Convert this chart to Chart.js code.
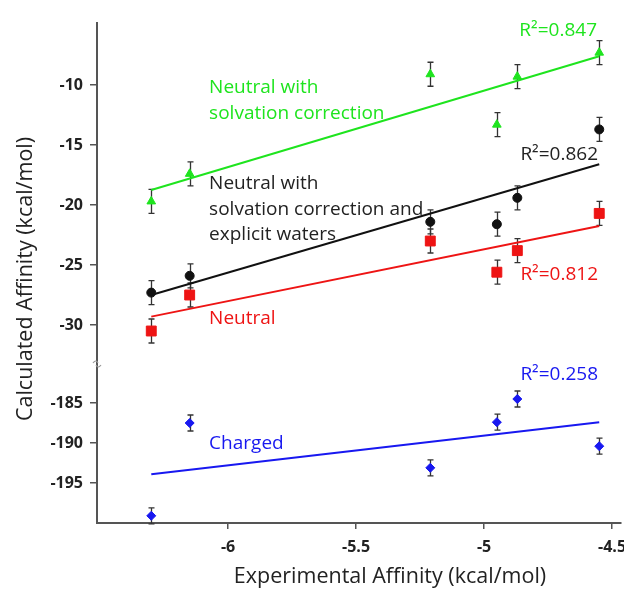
<!DOCTYPE html>
<html lang="en">
<head>
  <meta charset="UTF-8" />
  <title>Calculated vs Experimental Affinity</title>
  <script src="https://cdn.jsdelivr.net/npm/chart.js"></script>
  <style>
    body {
      margin: 0;
      background: #ffffff;
    }
    .wrap {
      position: relative;
      width: 624px;
      height: 590px;
    }
  </style>
</head>
<body>
  <div class="wrap">
    <canvas id="affinityChart"></canvas>
  </div>

  <script>
    // experimental affinities shared by all four series
    const expAffinity = [-6.30, -6.15, -5.21, -4.95, -4.87, -4.55];

    const neutralSolv = [-19.7, -17.4, -9.1, -13.3, -9.3, -7.3];
    const neutralSolvWater = [-27.3, -25.9, -21.4, -21.6, -19.4, -13.7];
    const neutral = [-30.5, -27.5, -23.0, -25.6, -23.8, -20.7];
    const charged = [-199.1, -187.5, -193.1, -187.4, -184.5, -190.4];

    const errNeutralSolv = [1, 1, 1, 1, 1, 1];
    const errNeutralSolvWater = [1, 1, 1, 1, 1, 1];
    const errNeutral = [1, 1, 1, 1, 1, 1];
    const errCharged = [1, 1, 1, 1, 1, 1];

    // regression lines, end points
    const fitX = [-6.30, -4.55];
    const fitNeutralSolv = [-18.75, -7.6];
    const fitNeutralSolvWater = [-27.5, -16.6];
    const fitNeutral = [-29.3, -21.75];
    const fitCharged = [-193.9, -187.4];

    const r2Labels = ['R²=0.847', 'R²=0.862', 'R²=0.812', 'R²=0.258'];

    const xTicks = [-6, -5.5, -5, -4.5];
    const yTopTicks = [-10, -15, -20, -25, -30];
    const yBotTicks = [-185, -190, -195];

    const GREEN = '#1ee41e';
    const BLACK = '#111111';
    const RED = '#ee1414';
    const BLUE = '#1818f0';
    const AXIS = '#555555';
    const TEXT = '#222222';
    const FONT = "'Open Sans', sans-serif";

    const toPts = (xs, ys) => xs.map((x, i) => ({ x: x, y: ys[i] }));

    function pointSet(label, ys, errs, color, style, radius, axis) {
      return {
        label: label,
        data: toPts(expAffinity, ys),
        errors: errs,
        yAxisID: axis,
        pointStyle: style,
        pointRadius: radius,
        backgroundColor: color,
        borderColor: color,
        borderWidth: 1,
        showLine: false,
        clip: false,
        order: 1
      };
    }

    function fitSet(label, ys, color, axis) {
      return {
        label: label,
        data: toPts(fitX, ys),
        yAxisID: axis,
        showLine: true,
        pointRadius: 0,
        borderColor: color,
        borderWidth: 2,
        fill: false,
        order: 2
      };
    }

    // text placed in data coordinates (first line baseline)
    const notes = [
      { lines: ['Neutral with', 'solvation correction'], x: -6.074, y: -10.7, axis: 'yTop', color: GREEN },
      { lines: [r2Labels[0]], x: -4.862, y: -5.95, axis: 'yTop', color: GREEN },
      { lines: ['Neutral with', 'solvation correction and', 'explicit waters'], x: -6.074, y: -18.7, axis: 'yTop', color: '#222222' },
      { lines: [r2Labels[1]], x: -4.858, y: -16.25, axis: 'yTop', color: '#222222' },
      { lines: [r2Labels[2]], x: -4.858, y: -26.25, axis: 'yTop', color: RED },
      { lines: ['Neutral'], x: -6.074, y: -29.92, axis: 'yTop', color: RED },
      { lines: [r2Labels[3]], x: -4.858, y: -182.1, axis: 'yBot', color: BLUE },
      { lines: ['Charged'], x: -6.074, y: -190.75, axis: 'yBot', color: BLUE }
    ];

    const overlay = {
      id: 'overlay',
      beforeDatasetsDraw(chart) {
        const ctx = chart.ctx;
        const xs = chart.scales.x;
        ctx.save();
        ctx.strokeStyle = '#333333';
        ctx.lineWidth = 1.3;
        chart.data.datasets.forEach(ds => {
          if (!ds.errors) return;
          const ys = chart.scales[ds.yAxisID];
          ds.data.forEach((p, i) => {
            const px = Math.round(xs.getPixelForValue(p.x)) + 0.5;
            const top = ys.getPixelForValue(p.y + ds.errors[i]);
            const bot = ys.getPixelForValue(p.y - ds.errors[i]);
            ctx.beginPath();
            ctx.moveTo(px, top);
            ctx.lineTo(px, bot);
            ctx.moveTo(px - 3, top);
            ctx.lineTo(px + 3, top);
            ctx.moveTo(px - 3, bot);
            ctx.lineTo(px + 3, bot);
            ctx.stroke();
          });
        });
        ctx.restore();
      },
      afterDraw(chart) {
        const ctx = chart.ctx;
        const area = chart.chartArea;
        const xs = chart.scales.x;
        ctx.save();
        ctx.font = '19px ' + FONT;
        ctx.textAlign = 'left';
        ctx.textBaseline = 'alphabetic';
        notes.forEach(n => {
          const px = xs.getPixelForValue(n.x);
          const py = chart.scales[n.axis].getPixelForValue(n.y);
          ctx.fillStyle = n.color;
          n.lines.forEach((t, i) => ctx.fillText(t, px, py + i * 25.5));
        });

        // axis titles
        ctx.fillStyle = TEXT;
        ctx.font = '21.5px ' + FONT;
        ctx.textAlign = 'center';
        ctx.fillText('Experimental Affinity (kcal/mol)', 390, 583);
        ctx.save();
        ctx.translate(32, 279);
        ctx.rotate(-Math.PI / 2);
        ctx.fillText('Calculated Affinity (kcal/mol)', 0, 0);
        ctx.restore();

        // axis break mark
        const by = chart.scales.yBot.top;
        ctx.strokeStyle = '#999999';
        ctx.lineWidth = 1.2;
        ctx.beginPath();
        ctx.moveTo(area.left - 4, by - 1);
        ctx.quadraticCurveTo(area.left - 1, by - 5, area.left + 1, by - 1);
        ctx.moveTo(area.left - 1, by + 1);
        ctx.quadraticCurveTo(area.left + 1, by + 5, area.left + 4, by + 1);
        ctx.stroke();
        ctx.restore();
      }
    };

    const tickFont = { family: FONT, size: 16, weight: 'bold' };

    function yAxis(min, max, ticks, weight) {
      return {
        type: 'linear',
        position: 'left',
        stack: 'affinity',
        stackWeight: weight,
        min: min,
        max: max,
        afterBuildTicks: s => { s.ticks = ticks.map(v => ({ value: v })); },
        afterFit: s => { s.width = 97; s.paddingTop = 0; s.paddingBottom = 0; },
        grid: { drawOnChartArea: false, tickLength: 7, color: AXIS, lineWidth: 1.5 },
        border: { color: AXIS, width: 2 },
        ticks: { padding: 7, color: TEXT, font: tickFont }
      };
    }

    new Chart(document.getElementById('affinityChart'), {
      type: 'scatter',
      data: {
        datasets: [
          pointSet('Neutral with solvation correction', neutralSolv, errNeutralSolv, GREEN, 'triangle', 5, 'yTop'),
          pointSet('Neutral with solvation correction and explicit waters', neutralSolvWater, errNeutralSolvWater, BLACK, 'circle', 4.5, 'yTop'),
          pointSet('Neutral', neutral, errNeutral, RED, 'rect', 7, 'yTop'),
          pointSet('Charged', charged, errCharged, BLUE, 'rectRot', 4.5, 'yBot'),
          fitSet('Fit solvation', fitNeutralSolv, GREEN, 'yTop'),
          fitSet('Fit waters', fitNeutralSolvWater, BLACK, 'yTop'),
          fitSet('Fit neutral', fitNeutral, RED, 'yTop'),
          fitSet('Fit charged', fitCharged, BLUE, 'yBot')
        ]
      },
      options: {
        responsive: true,
        maintainAspectRatio: false,
        animation: false,
        layout: { autoPadding: false, padding: { left: 0, right: 3, top: 23, bottom: 0 } },
        plugins: {
          legend: { display: false },
          tooltip: { enabled: false }
        },
        scales: {
          x: {
            type: 'linear',
            min: -6.512,
            max: -4.465,
            afterBuildTicks: s => { s.ticks = xTicks.map(v => ({ value: v })); },
            afterFit: s => { s.height = 67; s.paddingLeft = 0; s.paddingRight = 0; },
            grid: { drawOnChartArea: false, tickLength: 6, color: AXIS, lineWidth: 1.5 },
            border: { color: AXIS, width: 2 },
            ticks: { padding: 9, color: TEXT, font: tickFont, callback: v => String(v) }
          },
          yBot: yAxis(-200, -180.125, yBotTicks, 159),
          yTop: yAxis(-33.25, -4.83, yTopTicks, 341)
        }
      },
      plugins: [overlay]
    });
  </script>
</body>
</html>
